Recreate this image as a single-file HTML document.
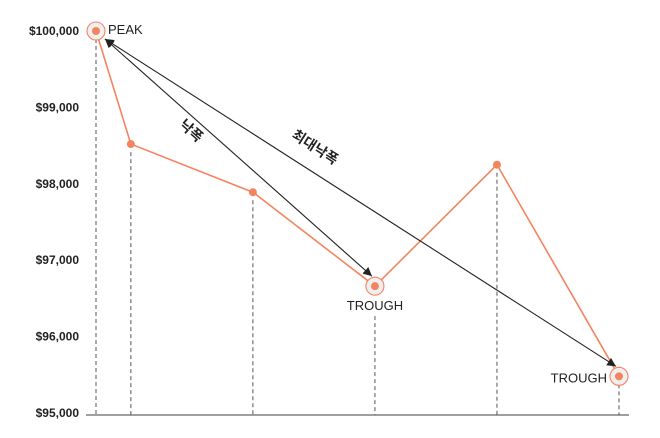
<!DOCTYPE html>
<html><head><meta charset="utf-8"><style>
body{margin:0;background:#fff;}
svg{display:block;font-family:"Liberation Sans","Noto Sans CJK KR",sans-serif;}
</style></head><body>
<svg id="chart" width="660" height="438">
<defs><marker id="ah" viewBox="0 0 10 10" refX="10" refY="5" markerWidth="8" markerHeight="8" orient="auto-start-reverse"><path d="M0,0L10,5L0,10z" fill="#222"/></marker></defs>
</svg>
<script>
const xs = [0, 1, 4.5, 8, 11.5, 15];
const values = [100000, 98520, 97890, 96660, 98250, 95480];
const yTicks = [95000, 96000, 97000, 98000, 99000, 100000];
const yTickLabels = ['$95,000','$96,000','$97,000','$98,000','$99,000','$100,000'];
const peakIdx = 0, troughIdx = 3, maxTroughIdx = 5;
const NS='http://www.w3.org/2000/svg';
const svg=document.getElementById('chart');
const X=v=>96+v*(523/15);
const Y=v=>31+(100000-v)*(382/5000);
function mk(t,a,p){const e=document.createElementNS(NS,t);for(const k in a)e.setAttribute(k,a[k]);(p||svg).appendChild(e);return e;}
const g1=mk('g',{});


yTicks.forEach((t,i)=>{const tx=mk('text',{x:79,y:Y(t)+4,'text-anchor':'end','font-size':12,'font-weight':'bold',fill:'#222'},g1);tx.textContent=yTickLabels[i];

});
const ax=mk('line',{x1:86,x2:629,y1:415,y2:415,stroke:'#666','stroke-width':1.2});


xs.forEach((x,i)=>{let top=Y(values[i])+8;if(i===troughIdx)top=Y(values[i])+30;
const d=mk('line',{x1:X(x),x2:X(x),y1:top,y2:415,stroke:'#555','stroke-dasharray':'4,3'});

});
const pl=mk('polyline',{points:xs.map((x,i)=>X(x)+','+Y(values[i])).join(' '),fill:'none',stroke:'#f4845f','stroke-width':1.6});


[peakIdx,troughIdx,maxTroughIdx].forEach(i=>{const c=mk('circle',{cx:X(xs[i]),cy:Y(values[i]),r:9,fill:'#efefef',stroke:'#f4845f','stroke-width':1.1});

});
xs.forEach((x,i)=>{const c=mk('circle',{cx:X(x),cy:Y(values[i]),r:4,fill:'#f4845f'});

});
function arrow(i,j,label,name,off){const x1=X(xs[i])+9,y1=Y(values[i])+8,x2=X(xs[j])-3,y2=Y(values[j])-10;
const l=mk('line',{x1:x1,y1:y1,x2:x2,y2:y2,stroke:'#222','stroke-width':1.1,'marker-start':'url(#ah)','marker-end':'url(#ah)'});


const ang=Math.atan2(y2-y1,x2-x1)*180/Math.PI;const mx=x1+(x2-x1)*off[0],my=y1+(y2-y1)*off[0];
const t=mk('text',{x:0,y:0,'text-anchor':'middle','font-size':14,'font-weight':'bold',fill:'#222',transform:`translate(${mx+off[1]},${my+off[2]}) rotate(${ang})`});t.textContent=label;

}
arrow(peakIdx,troughIdx,'낙폭','drawdown',[0.33,-5,17]);
arrow(peakIdx,maxTroughIdx,'최대낙폭','max-drawdown',[0.41,-2,-22]);
function lab(txt,x,y,anchor,name){const t=mk('text',{x:x,y:y,'text-anchor':anchor,'font-size':13,fill:'#222'});t.textContent=txt;

}
lab('PEAK',X(xs[peakIdx])+12,Y(values[peakIdx])+3,'start','peak-label');
lab('TROUGH',X(xs[troughIdx]),Y(values[troughIdx])+24,'middle','trough-label');
lab('TROUGH',X(xs[maxTroughIdx])-12,Y(values[maxTroughIdx])+6,'end','max-trough-label');
</script>
</body></html>
